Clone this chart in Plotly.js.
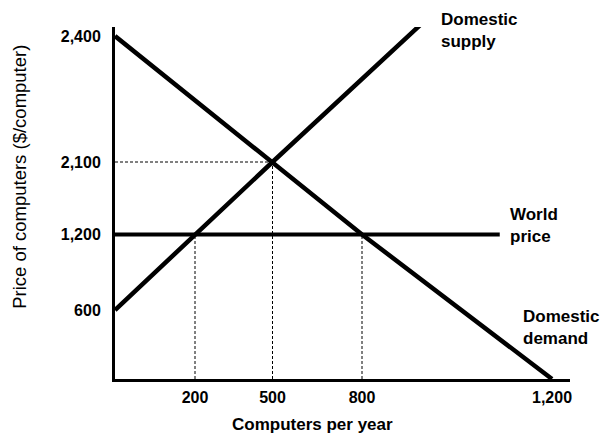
<!DOCTYPE html>
<html>
<head>
<meta charset="utf-8">
<script src="https://cdn.plot.ly/plotly-3.0.1.min.js"></script>
<style>html,body{margin:0;padding:0;background:#fff;}#chart{width:601px;height:441px;}</style>
</head>
<body>
<div id="chart"></div>
<script>
// ---- Data (economic values) ----
var quantityTicks = [200, 500, 800, 1200];
var quantityTickText = ["200", "500", "800", "1,200"];
var priceTicks = [600, 1200, 2100, 2400];
var priceTickText = ["600", "1,200", "2,100", "2,400"];

var demandQty = [0, 500, 800, 1200];
var demandPrice = [2400, 2100, 1200, 0];

var supplyQty = [0, 200, 500, 950];
var supplyPrice = [600, 1200, 2100, 2455];

var worldQty = [0, 1090];
var worldPrice = [1200, 1200];

var equilibria = [
  {q: 500, p: 2100, horiz: true},
  {q: 200, p: 1200, horiz: false},
  {q: 800, p: 1200, horiz: false}
];

// ---- Schematic (not-to-scale) axis scales of the original diagram ----
var xScaleVals = [0, 200, 500, 800, 1200];
var xScaleUnits = [0, 80, 157.5, 247, 437];
var yScaleVals = [0, 600, 1200, 2100, 2400];
var yScaleUnits = [0, 69, 144.5, 217, 343];

function piecewise(vals, units) {
  return function (v) {
    var n = vals.length, i = 0;
    if (v >= vals[n - 1]) i = n - 2;
    else { while (i < n - 2 && v > vals[i + 1]) i++; }
    var t = (v - vals[i]) / (vals[i + 1] - vals[i]);
    return units[i] + t * (units[i + 1] - units[i]);
  };
}
var sx = piecewise(xScaleVals, xScaleUnits);
var sy = piecewise(yScaleVals, yScaleUnits);
function mapX(a) { return a.map(sx); }
function mapY(a) { return a.map(sy); }
function bold(a) { return a.map(function (s) { return "<b>" + s + "</b>"; }); }

var solid = {color: "#000", width: 4.5};
var dashed = {color: "#000", width: 1, dash: "3px,2px"};

var traces = [];
equilibria.forEach(function (e) {
  if (e.horiz) {
    traces.push({x: mapX([0, e.q]), y: mapY([e.p, e.p]), mode: "lines", line: dashed, hoverinfo: "skip"});
  }
  traces.push({x: mapX([e.q, e.q]), y: mapY([0, e.p]), mode: "lines", line: dashed, hoverinfo: "skip"});
});
traces.push({x: mapX(worldQty), y: mapY(worldPrice), mode: "lines", line: {color: "#000", width: 4}, name: "World price"});
traces.push({x: mapX(demandQty), y: mapY(demandPrice), mode: "lines", line: solid, name: "Domestic demand"});
traces.push({x: mapX(supplyQty), y: mapY(supplyPrice), mode: "lines", line: solid, name: "Domestic supply"});

var FAM = "Liberation Sans, Arial, sans-serif";
var tickFont = {family: FAM, size: 16, color: "#000"};
var labFont = {family: FAM, size: 17, color: "#000"};

var layout = {
  width: 601, height: 441,
  margin: {l: 115, r: 31, t: 27, b: 62},
  paper_bgcolor: "#fff", plot_bgcolor: "#fff",
  showlegend: false,
  xaxis: {
    range: [0, 455], showgrid: false, zeroline: false,
    showline: true, linecolor: "#000", linewidth: 3,
    tickvals: mapX(quantityTicks), ticktext: bold(quantityTickText),
    ticks: "", tickfont: tickFont, ticklabelstandoff: 2, fixedrange: true
  },
  yaxis: {
    range: [0, 352], showgrid: false, zeroline: false,
    showline: true, linecolor: "#000", linewidth: 3,
    tickvals: mapY(priceTicks), ticktext: bold(priceTickText),
    ticks: "", tickfont: tickFont, ticklabelstandoff: 8, fixedrange: true
  },
  annotations: [
    {text: "<b>Domestic<br>supply</b>", xref: "paper", yref: "paper", x: 0.712, y: 0.99, xanchor: "left", yanchor: "middle", align: "left", showarrow: false, font: labFont},
    {text: "<b>World<br>price</b>", xref: "paper", yref: "paper", x: 0.864, y: 0.435, xanchor: "left", yanchor: "middle", align: "left", showarrow: false, font: labFont},
    {text: "<b>Domestic<br>demand</b>", xref: "paper", yref: "paper", x: 0.892, y: 0.145, xanchor: "left", yanchor: "middle", align: "left", showarrow: false, font: labFont},
    {text: "<b>Computers per year</b>", xref: "paper", yref: "paper", x: 0.433, y: -0.128, xanchor: "center", yanchor: "middle", showarrow: false, font: labFont},
    {text: "Price of computers ($/computer)", xref: "paper", yref: "paper", x: -0.209, y: 0.574, xanchor: "center", yanchor: "middle", textangle: -90, showarrow: false, font: {family: FAM, size: 18.5, color: "#000"}}
  ]
};

Plotly.newPlot("chart", traces, layout, {displayModeBar: false, staticPlot: true});
</script>
</body>
</html>
